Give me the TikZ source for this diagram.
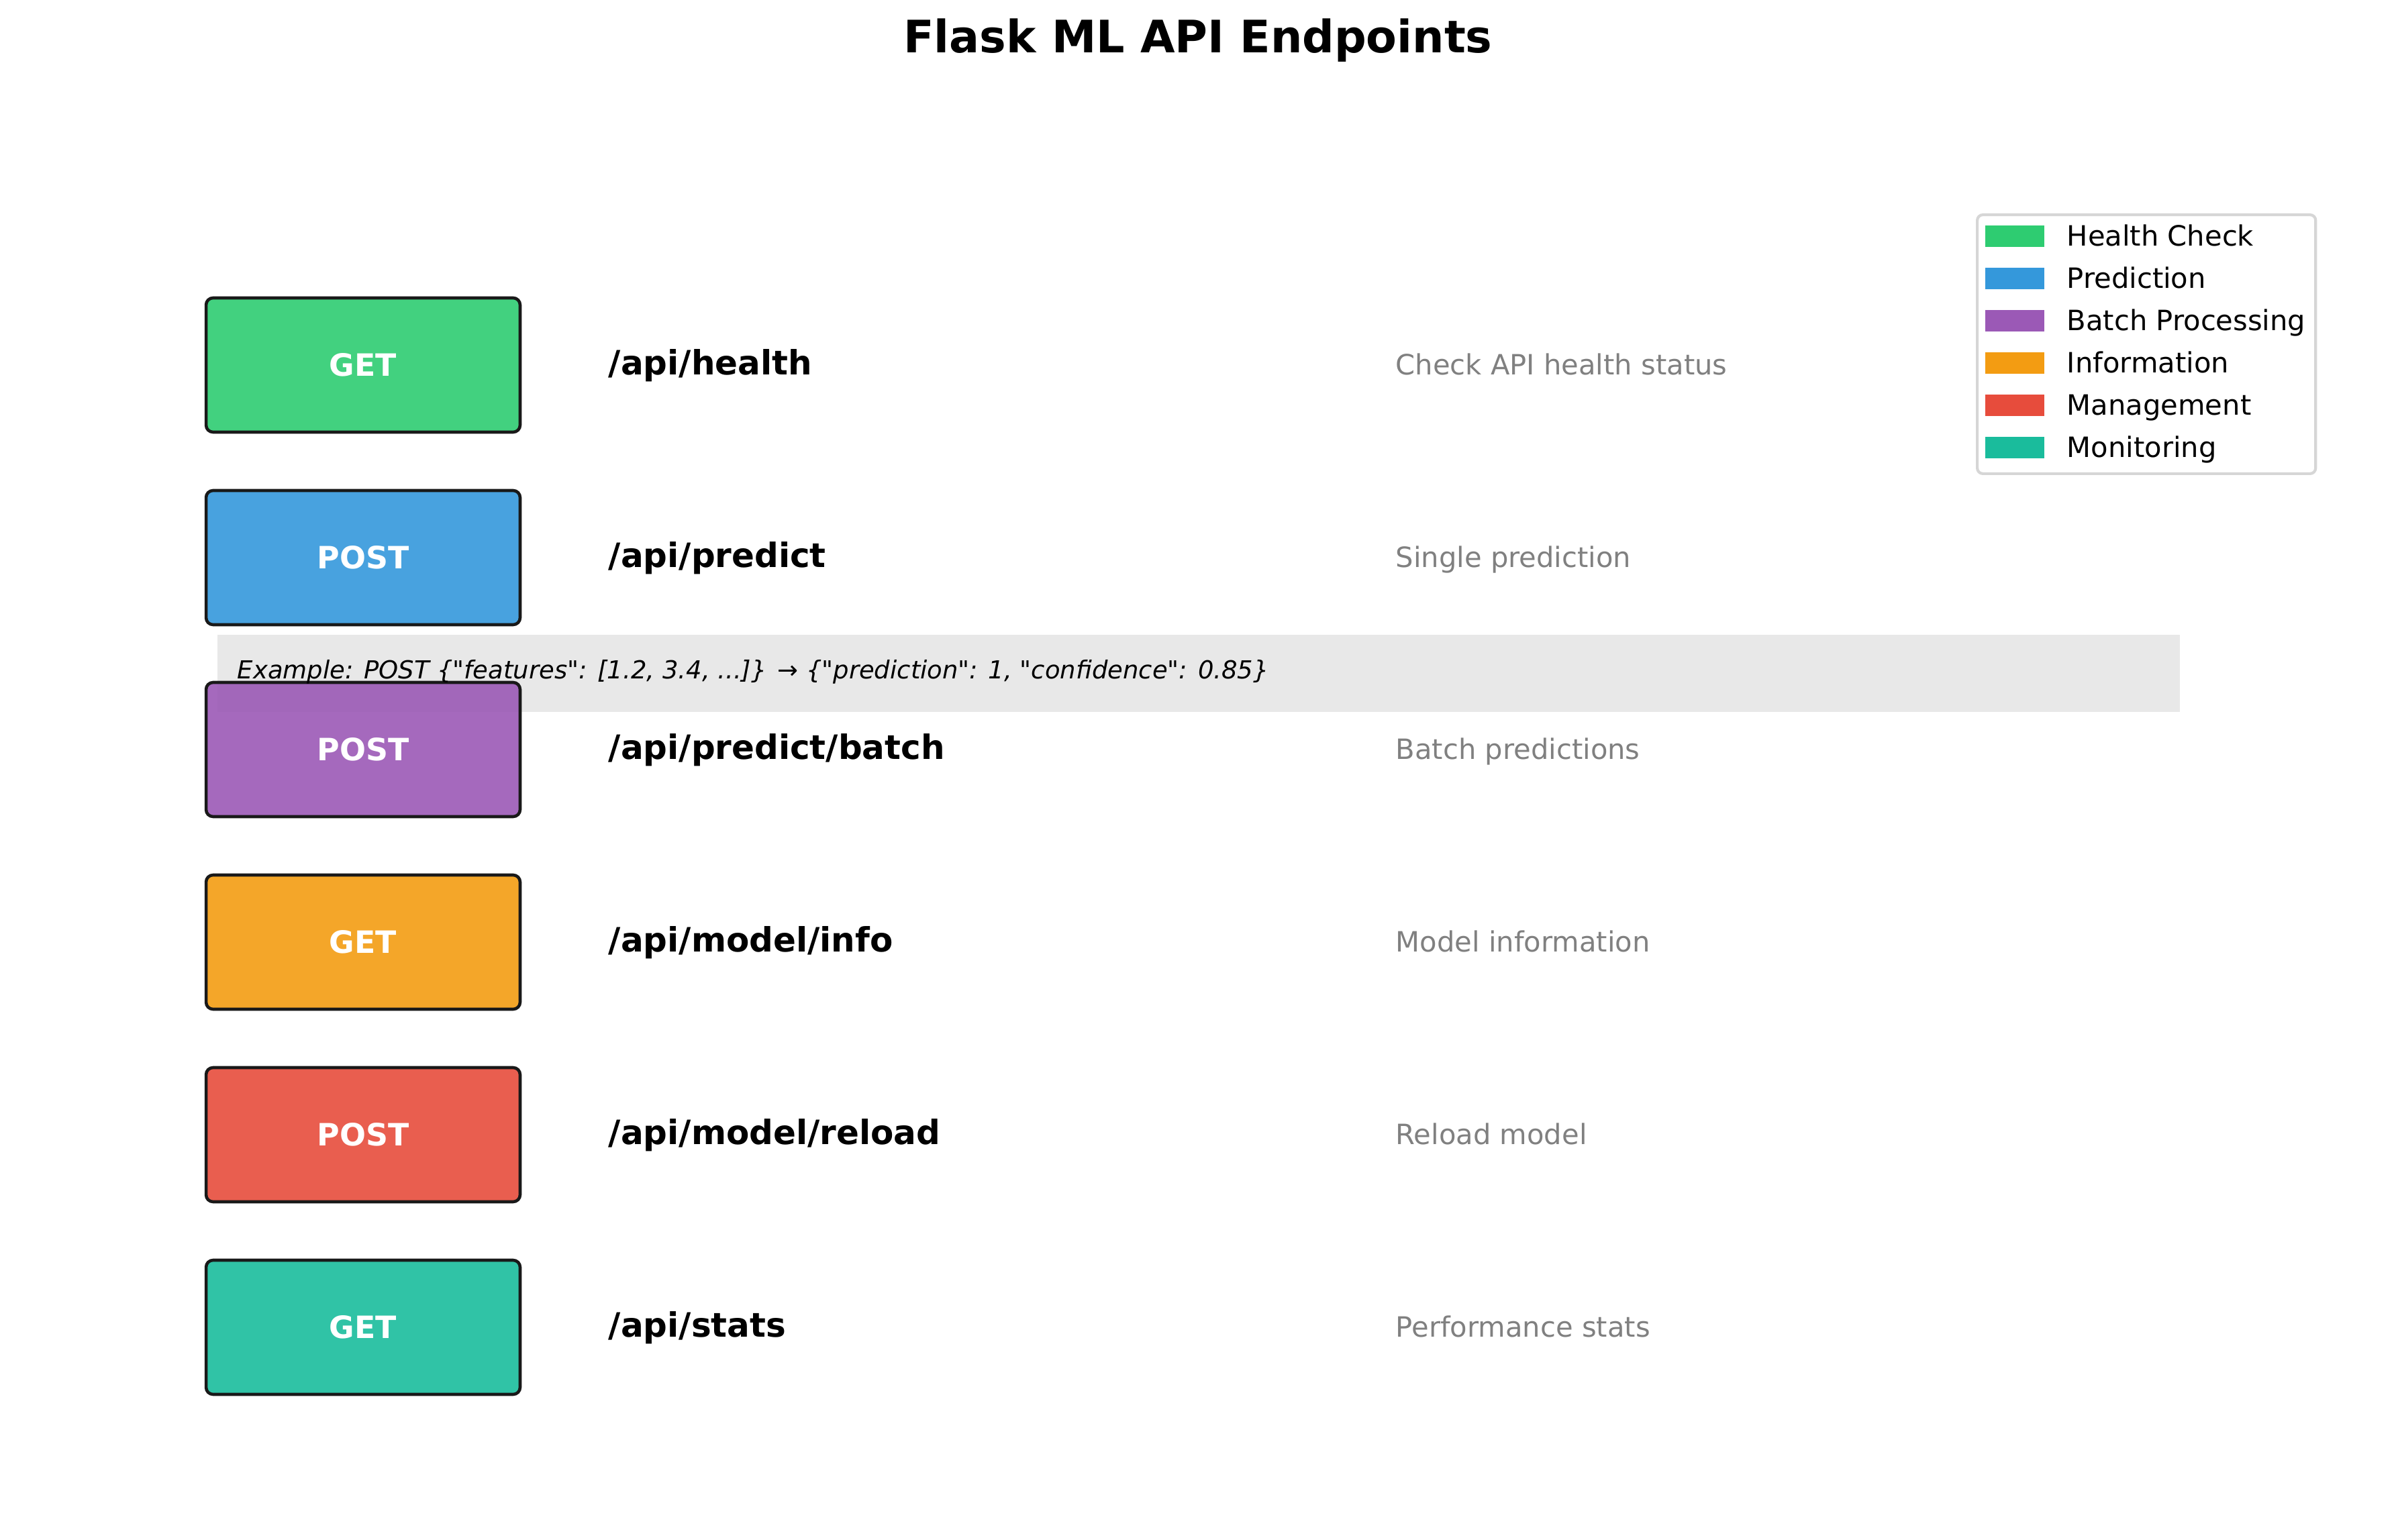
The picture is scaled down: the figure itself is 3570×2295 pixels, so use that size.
\documentclass[tikz,border=0pt]{standalone}
\usepackage{fontspec}
\setmainfont{DejaVu Sans}[Ligatures=TeXOff]
\definecolor{cgreen}{HTML}{2ECC71}
\definecolor{cblue}{HTML}{3498DB}
\definecolor{cpurple}{HTML}{9B59B6}
\definecolor{corange}{HTML}{F39C12}
\definecolor{cred}{HTML}{E74C3C}
\definecolor{cteal}{HTML}{1ABC9C}
\definecolor{bandgray}{HTML}{E8E8E8}
\definecolor{descgray}{HTML}{808080}
\definecolor{legframe}{HTML}{D6D6D6}
\begin{document}
\begin{tikzpicture}[x=0.24pt,y=-0.24pt,
  fixedtext/.style={text height=0.86em, text depth=0.16em},
  methodbox/.style={draw=black!90, line width=1.1pt, rounded corners=2.5pt, fill opacity=0.9, text opacity=1,
    minimum width=112.3pt, minimum height=48pt, inner sep=0pt, text=white, font=\fontsize{11}{13}\selectfont\bfseries},
  pathtext/.style={fixedtext, anchor=west, inner sep=0pt, font=\fontsize{12}{14}\selectfont\bfseries},
  desctext/.style={fixedtext, anchor=west, inner sep=0pt, text=descgray, font=\fontsize{10}{12}\selectfont},
  legpatch/.style={minimum width=21.1pt, minimum height=7.9pt, inner sep=0pt},
  legtext/.style={fixedtext, anchor=west, inner sep=0pt, font=\fontsize{10}{12}\selectfont},
  titletext/.style={inner sep=0pt, font=\fontsize{16}{19}\selectfont\bfseries}]
\useasboundingbox (0,0) rectangle (3570,2295);
% title
\node[titletext] (title) at (1785,60) {Flask ML API Endpoints};
% example band
\node[fill=bandgray, minimum width=701.8pt, minimum height=27.6pt, inner sep=0pt, anchor=north west] (band) at (323,945) {};
% method boxes
\node[methodbox, fill=cgreen] (m1) at (541,544) {GET};
\node[methodbox, fill=cblue] (m2) at (541,831) {POST};
\node[methodbox, fill=cpurple] (m3) at (541,1117) {POST};
\node[methodbox, fill=corange] (m4) at (541,1404) {GET};
\node[methodbox, fill=cred] (m5) at (541,1691) {POST};
\node[methodbox, fill=cteal] (m6) at (541,1978) {GET};
% paths
\node[pathtext] (p1) at (906,544) {/api/health};
\node[pathtext] (p2) at (906,831) {/api/predict};
\node[pathtext] (p3) at (906,1117) {/api/predict/batch};
\node[pathtext] (p4) at (906,1404) {/api/model/info};
\node[pathtext] (p5) at (906,1691) {/api/model/reload};
\node[pathtext] (p6) at (906,1978) {/api/stats};
% descriptions
\node[desctext] (d1) at (2079,544) {Check API health status};
\node[desctext] (d2) at (2079,831) {Single prediction};
\node[desctext] (d3) at (2079,1117) {Batch predictions};
\node[desctext] (d4) at (2079,1404) {Model information};
\node[desctext] (d5) at (2079,1691) {Reload model};
\node[desctext] (d6) at (2079,1978) {Performance stats};
% example text
\node[text height=0.76em, text depth=0.24em, anchor=west, inner sep=0pt, font=\fontsize{8.87}{11}\selectfont\itshape] (ex) at (353,1001)
  {Example: POST \{"features": [1.2, 3.4, ...]\} → \{"prediction": 1, "confidence": 0.85\}};
% legend
\node[draw=legframe, line width=1pt, rounded corners=2pt, fill=white, fill opacity=0.8, minimum width=121pt, minimum height=92.6pt, inner sep=0pt, anchor=north west] (legend) at (2944,318) {};
\node[legpatch, fill=cgreen] (l1) at (3002,352) {};
\node[legpatch, fill=cblue] (l2) at (3002,415) {};
\node[legpatch, fill=cpurple] (l3) at (3002,478) {};
\node[legpatch, fill=corange] (l4) at (3002,541) {};
\node[legpatch, fill=cred] (l5) at (3002,604) {};
\node[legpatch, fill=cteal] (l6) at (3002,667) {};
\node[legtext] (t1) at (3079,352) {Health Check};
\node[legtext] (t2) at (3079,415) {Prediction};
\node[legtext] (t3) at (3079,478) {Batch Processing};
\node[legtext] (t4) at (3079,541) {Information};
\node[legtext] (t5) at (3079,604) {Management};
\node[legtext] (t6) at (3079,667) {Monitoring};
\end{tikzpicture}
\end{document}
